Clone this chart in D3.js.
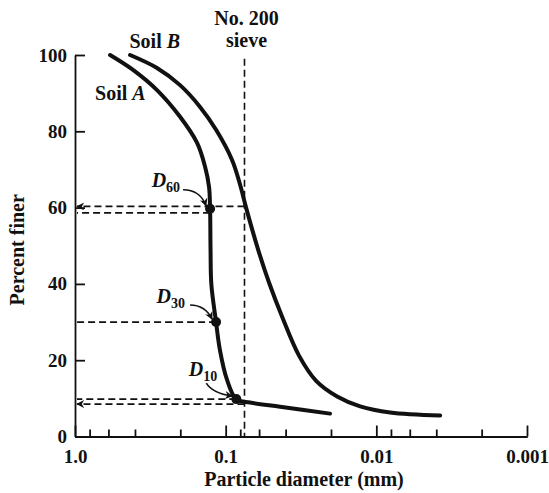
<!DOCTYPE html>
<html>
<head>
<meta charset="utf-8">
<script src="https://cdn.jsdelivr.net/npm/d3@7"></script>
<style>
  body { margin: 0; background: #fff; }
  text { font-family: "Liberation Serif", "Times New Roman", serif; font-weight: bold; fill: #111; }
</style>
</head>
<body>
<svg id="drawing_region" width="549" height="493"></svg>
<script>
// grading curves: particle diameter (mm) and percent finer
var soilA_d = [0.585, 0.412, 0.2855, 0.2008, 0.155, 0.137, 0.1289, 0.1269, 0.126, 0.1244, 0.1158, 0.1093, 0.098, 0.085, 0.0689, 0.0435, 0.0203];
var soilA_p = [100, 96.1, 90.8, 83.8, 77.0, 70.7, 65.4, 59.7, 49.0, 39.8, 30, 22.8, 14.9, 9.8, 8.9, 7.8, 6.0];

var soilB_d = [0.431, 0.2855, 0.2008, 0.1479, 0.1158, 0.0907, 0.0802, 0.0732, 0.0609, 0.0515, 0.0422, 0.0326, 0.0251, 0.0182, 0.0128, 0.0081, 0.00377];
var soilB_p = [100, 96.6, 92.1, 86.4, 80.4, 72.5, 66.0, 60.0, 49.0, 40.3, 31.4, 21.2, 14.6, 10.5, 7.9, 6.3, 5.5];

// No. 200 sieve opening (mm)
var sieve = 0.075;

// D10, D30, D60 of soil A
var dNames = ["10", "30", "60"];
var dSizes = [0.085, 0.1158, 0.1269];
var dPcts = [9.8, 30, 59.7];

// horizontal dashed guides: end diameter, percent, arrow at the axis
var guideEnd = [0.075, 0.1269, 0.1158, 0.085, 0.075];
var guidePct = [60.3, 58.6, 30, 9.8, 8.5];
var guideArrow = [true, false, false, false, true];

var majorTicks = [1, 0.1, 0.01, 0.001];
var majorLabels = ["1.0", "0.1", "0.01", "0.001"];
var minorTicks = [0.8, 0.6, 0.4, 0.2, 0.08, 0.06, 0.04, 0.02, 0.008, 0.006, 0.004, 0.002];
var yTicks = [0, 20, 40, 60, 80, 100];

var margin = { left: 75, right: 22, top: 55, bottom: 56 };
var width = 549, height = 493;

var svg = d3.select('#drawing_region');

var xscale = d3.scaleLog()
    .domain([1, 0.001])
    .range([margin.left, width - margin.right]);

var yscale = d3.scaleLinear()
    .domain([0, 100])
    .range([height - margin.bottom - 0.5, margin.top]);

// arrow heads
var defs = svg.append('defs');
defs.append('marker')
    .attr('id', 'head')
    .attr('viewBox', '0 0 10 10')
    .attr('refX', 9).attr('refY', 5)
    .attr('markerWidth', 9).attr('markerHeight', 8)
    .attr('markerUnits', 'userSpaceOnUse')
    .attr('orient', 'auto')
    .append('path')
    .attr('d', 'M0,0 L10,5 L0,10 L3,5 Z')
    .attr('fill', '#111');

// axes
const xaxis_minor = d3.axisBottom(xscale)
    .tickValues(minorTicks)
    .tickSizeInner(-7)
    .tickSizeOuter(0)
    .tickFormat("");

const xaxis = d3.axisBottom(xscale)
    .tickValues(majorTicks)
    .tickSizeInner(-11)
    .tickSizeOuter(0)
    .tickPadding(13)
    .tickFormat((d, i) => majorLabels[i]);

const yaxis = d3.axisLeft(yscale)
    .tickValues(yTicks)
    .tickSizeInner(-10)
    .tickSizeOuter(0)
    .tickPadding(8);

svg.append('g')
    .attr('transform', `translate(0, ${yscale(0)})`)
    .call(xaxis_minor);

const xaxis_group = svg.append('g')
    .attr('transform', `translate(0, ${yscale(0)})`)
    .call(xaxis);

const yaxis_group = svg.append('g')
    .attr('transform', `translate(${xscale(1)}, 0)`)
    .call(yaxis);

svg.selectAll('.domain, .tick line')
    .attr('stroke', '#111')
    .attr('stroke-width', 1.8);

svg.selectAll('.tick text')
    .style('font-size', '19px')
    .attr('fill', '#111');

// axis titles
svg.append('text')
    .attr('x', (xscale(1) + xscale(0.001)) / 2 + 3)
    .attr('y', height - 7)
    .attr('text-anchor', 'middle')
    .style('font-size', '20px')
    .text('Particle diameter (mm)');

svg.append('text')
    .attr('transform', `translate(24, ${yscale(50) + 4}) rotate(-90)`)
    .attr('text-anchor', 'middle')
    .style('font-size', '20px')
    .text('Percent finer');

// dashed guides
var dash = '7,4';

svg.append('line')
    .attr('x1', xscale(sieve)).attr('x2', xscale(sieve))
    .attr('y1', yscale(99)).attr('y2', yscale(0))
    .attr('stroke', '#111')
    .attr('stroke-width', 1.6)
    .attr('stroke-dasharray', dash);

svg.selectAll('line.guide')
    .data(guidePct)
    .join('line')
    .attr('class', 'guide')
    .attr('x1', (d, i) => xscale(guideEnd[i]))
    .attr('x2', xscale(1) + 2)
    .attr('y1', d => yscale(d))
    .attr('y2', d => yscale(d))
    .attr('stroke', '#111')
    .attr('stroke-width', 1.8)
    .attr('stroke-dasharray', dash)
    .attr('marker-end', (d, i) => guideArrow[i] ? 'url(#head)' : null);

// grading curves
var line = d3.line()
    .x(d => xscale(d[0]))
    .y(d => yscale(d[1]))
    .curve(d3.curveCatmullRom.alpha(0.5));

var curves = [d3.zip(soilA_d, soilA_p), d3.zip(soilB_d, soilB_p)];

svg.selectAll('path.curve')
    .data(curves)
    .join('path')
    .attr('class', 'curve')
    .attr('d', line)
    .attr('fill', 'none')
    .attr('stroke', '#111')
    .attr('stroke-width', 4)
    .attr('stroke-linecap', 'round');

// D points
svg.selectAll('circle.dpt')
    .data(dSizes)
    .join('circle')
    .attr('class', 'dpt')
    .attr('cx', d => xscale(d))
    .attr('cy', (d, i) => yscale(dPcts[i]))
    .attr('r', 5)
    .attr('fill', '#111');

// label offsets from each point: text end, arrow start and bend
var labelDx = [-19, -31, -30];
var labelDy = [-23, -19, -22];
var arrowFrom = [[-30, -16], [-26, -17], [-27, -19]];
var arrowBend = [[-24, -6], [-11, -17], [-10, -19]];

dSizes.forEach((d, i) => {
    var px = xscale(d), py = yscale(dPcts[i]);
    var t = svg.append('text')
        .attr('x', px + labelDx[i])
        .attr('y', py + labelDy[i])
        .attr('text-anchor', 'end');
    t.append('tspan')
        .style('font-size', '20px')
        .style('font-style', 'italic')
        .text('D');
    t.append('tspan')
        .attr('dy', 5)
        .style('font-size', '14px')
        .text(dNames[i]);

    var a = arrowFrom[i], b = arrowBend[i];
    svg.append('path')
        .attr('d', `M${px + a[0]},${py + a[1]} Q${px + b[0]},${py + b[1]} ${px - 4},${py - 3}`)
        .attr('fill', 'none')
        .attr('stroke', '#111')
        .attr('stroke-width', 1.6)
        .attr('marker-end', 'url(#head)');
});

// curve and sieve labels
svg.append('text')
    .attr('x', xscale(sieve) + 2).attr('y', 25)
    .attr('text-anchor', 'middle')
    .style('font-size', '20px')
    .text('No. 200');

svg.append('text')
    .attr('x', xscale(sieve) + 2).attr('y', 47)
    .attr('text-anchor', 'middle')
    .style('font-size', '20px')
    .text('sieve');

var soilLabel = function (name, letter, d, y) {
    var t = svg.append('text')
        .attr('x', xscale(d))
        .attr('y', y)
        .style('font-size', '20px');
    t.append('tspan').text(name + ' ');
    t.append('tspan').style('font-style', 'italic').text(letter);
};
soilLabel('Soil', 'B', 0.435, 48);
soilLabel('Soil', 'A', 0.736, 100);
</script>
</body>
</html>
